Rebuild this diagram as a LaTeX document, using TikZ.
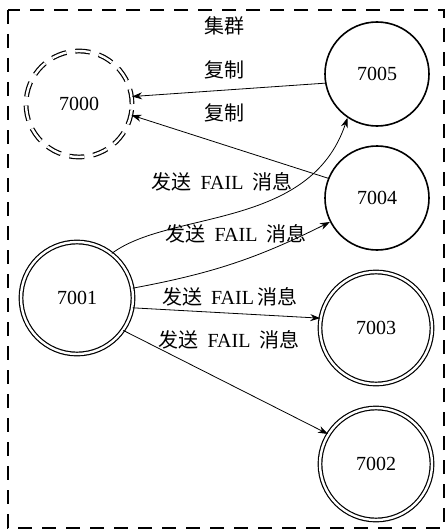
\documentclass[tikz,border=0pt]{standalone}
\usepackage{fontspec}
\setmainfont{Liberation Serif}
\newfontfamily\cjk{Noto Sans CJK SC}
\usetikzlibrary{arrows.meta}
\newcommand{\zh}[1]{{\cjk #1}}
\newcommand{\sendfail}{\zh{发送}\hspace{9pt}FAIL\hspace{9pt}\zh{消息}}
\begin{document}
\begin{tikzpicture}[x=1pt,y=-1pt,
  font=\fontsize{20}{22}\selectfont,
  frame/.style={draw, line width=1.8pt, dash pattern=on 14pt off 10pt},
  single/.style={circle, draw, line width=1.6pt, minimum size=104pt, inner sep=0pt},
  dbl/.style={circle, draw, line width=1.2pt, double=white, double distance=2.4pt, minimum size=112pt, inner sep=0pt},
  dead/.style={circle, draw, line width=1.2pt, double=white, double distance=2.4pt, dash pattern=on 15pt off 9pt, minimum size=106pt, inner sep=0pt},
  arr/.style={-{Stealth[length=10pt,width=7pt]}, line width=0.8pt},
  lbl/.style={inner sep=1pt}]
\useasboundingbox (0,0) rectangle (447,532);
\draw[frame] (8,10) rectangle (444,528);
\node[lbl] (title) at (224,26) {\zh{集群}};
\node[dead] (n7000) at (79,104) {7000};
\node[single] (n7005) at (377,74) {7005};
\node[single] (n7004) at (377,198) {7004};
\node[dbl] (n7001) at (77,298) {7001};
\node[dbl] (n7003) at (376,328) {7003};
\node[dbl] (n7002) at (376,464) {7002};
\node[lbl] (r1) at (224,70) {\zh{复制}};
\node[lbl] (r2) at (224,113) {\zh{复制}};
\draw[arr] (n7005.190) -- (n7000.8);
\draw[arr] (n7004.158) -- (n7000.-12);
\draw[arr] (n7001.52) .. controls (170,210) and (310,230) .. (n7005.236);
\draw[arr] (n7001.10) to[bend right=8] (n7004.207);
\draw[arr] (n7001.-10) -- (n7003.170);
\draw[arr] (n7001.-35) -- (n7002.148);
\node[lbl] (l1) at (222,182) {\sendfail};
\node[lbl] (l2) at (236,234) {\sendfail};
\node[lbl] (l3) at (230,297) {\zh{发送}\hspace{9pt}FAIL\hspace{4pt}\zh{消息}};
\node[lbl] (l4) at (229,340) {\sendfail};
\end{tikzpicture}
\end{document}
